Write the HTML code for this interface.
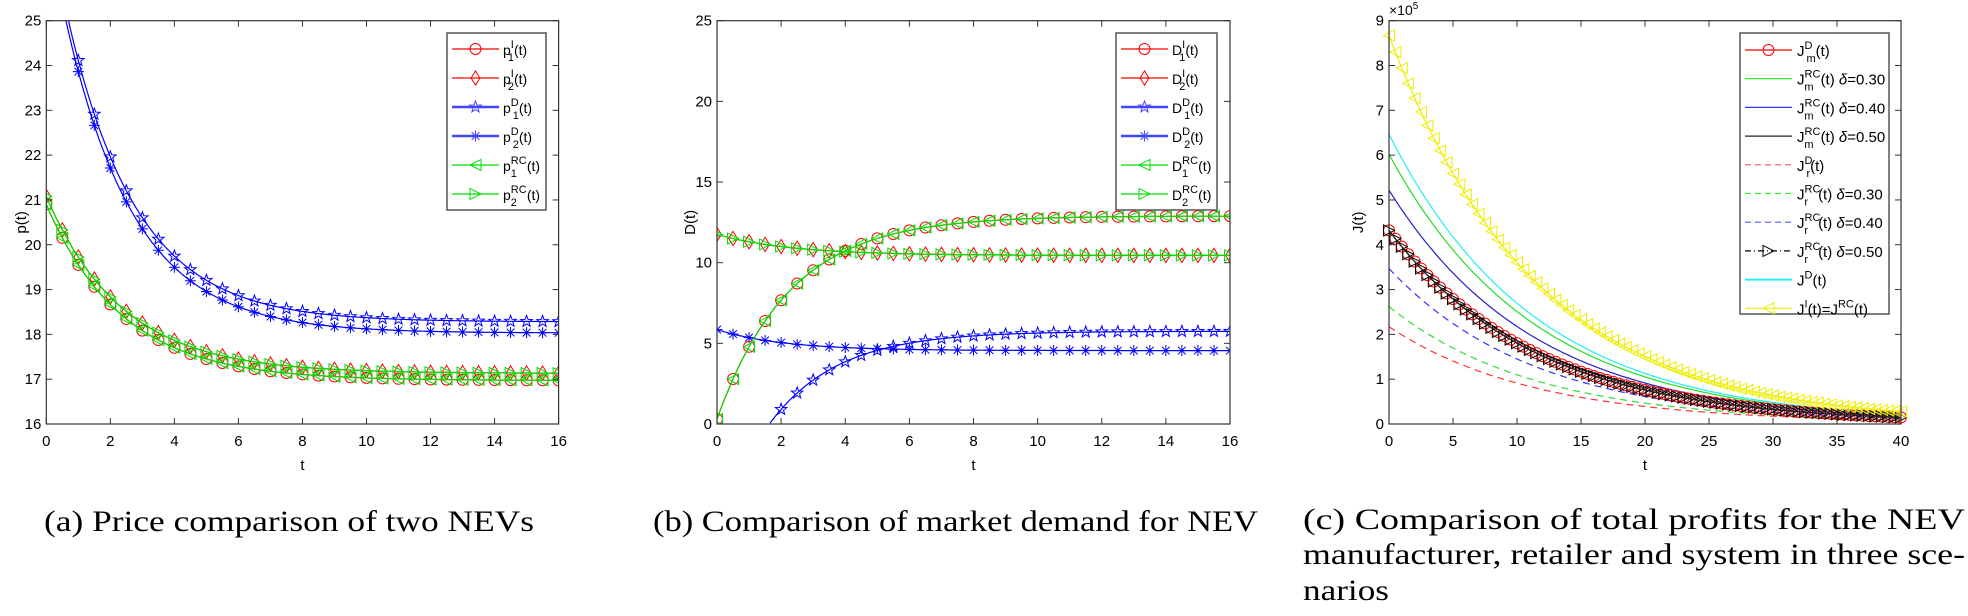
<!DOCTYPE html>
<html><head><meta charset="utf-8">
<style>
html,body{margin:0;padding:0;background:#fff;}
svg{display:block;}
text{font-family:"Liberation Sans",sans-serif;}
.cap{font-family:"Liberation Serif",serif;font-size:30px;fill:#000;}
</style></head>
<body>
<svg id="s" width="1968" height="616" xmlns="http://www.w3.org/2000/svg"></svg>
<script>
const S=document.getElementById('s');
let out='';
function ax(o){
  const {x0,x1,y0,y1}=o;
  let s=`<rect x="${x0}" y="${y0}" width="${x1-x0}" height="${y1-y0}" fill="none" stroke="#333" stroke-width="1.2"/>`;
  o.xt.forEach(v=>{const X=o.X(v);
    s+=`<line x1="${X}" y1="${y1}" x2="${X}" y2="${y1-6}" stroke="#333"/><line x1="${X}" y1="${y0}" x2="${X}" y2="${y0+6}" stroke="#333"/>`;
    s+=`<text x="${X}" y="${y1+22}" font-size="15" text-anchor="middle">${v}</text>`;});
  o.yt.forEach(v=>{const Y=o.Y(v);
    s+=`<line x1="${x0}" y1="${Y}" x2="${x0+6}" y2="${Y}" stroke="#333"/><line x1="${x1}" y1="${Y}" x2="${x1-6}" y2="${Y}" stroke="#333"/>`;
    s+=`<text x="${x0-5}" y="${Y+5}" font-size="15" text-anchor="end">${v}</text>`;});
  s+=`<text x="${(x0+x1)/2}" y="${y1+46}" font-size="15" text-anchor="middle">t</text>`;
  s+=`<text transform="translate(${o.lx},${(y0+y1)/2}) rotate(-90)" font-size="15" text-anchor="middle">${o.ylab}</text>`;
  return s;
}
function mk(type,x,y,c,r){
  r=r||5.5;
  if(type=='o')return `<circle cx="${x}" cy="${y}" r="${r}" fill="none" stroke="${c}"/>`;
  if(type=='d')return `<polygon points="${x},${y-r*1.3} ${x+r*0.8},${y} ${x},${y+r*1.3} ${x-r*0.8},${y}" fill="none" stroke="${c}"/>`;
  if(type=='<')return `<polygon points="${x-r},${y} ${x+r},${y-r} ${x+r},${y+r}" fill="none" stroke="${c}"/>`;
  if(type=='>')return `<polygon points="${x+r},${y} ${x-r},${y-r} ${x-r},${y+r}" fill="none" stroke="${c}"/>`;
  if(type=='*')return `<g stroke="${c}"><line x1="${x-r}" y1="${y}" x2="${x+r}" y2="${y}"/><line x1="${x}" y1="${y-r}" x2="${x}" y2="${y+r}"/><line x1="${x-r*.7}" y1="${y-r*.7}" x2="${x+r*.7}" y2="${y+r*.7}"/><line x1="${x-r*.7}" y1="${y+r*.7}" x2="${x+r*.7}" y2="${y-r*.7}"/></g>`;
  if(type=='p'){let p=[];for(let i=0;i<10;i++){const a=-Math.PI/2+i*Math.PI/5,rr=i%2?r*0.45:r*1.1;p.push((x+rr*Math.cos(a)).toFixed(1)+','+(y+rr*Math.sin(a)).toFixed(1));}return `<polygon points="${p.join(' ')}" fill="none" stroke="${c}"/>`;}
  return '';
}
function series(o,f,c,t0,t1,mt,mstep,dash,w,clip){
  let pts=[];
  for(let t=t0;t<=t1+1e-9;t+=(t1-t0)/300){const v=f(t);if(clip&&v<o.ymin)continue;pts.push(o.X(t).toFixed(1)+','+o.Y(v).toFixed(1));}
  let s=`<polyline points="${pts.join(' ')}" fill="none" stroke="${c}" stroke-width="${w||1.2}" ${dash?'stroke-dasharray="'+dash+'"':''}/>`;
  if(mt){for(let t=t0;t<=t1+1e-9;t+=mstep){const v=f(t);if(v<o.ymin)continue;s+=mk(mt,o.X(t),o.Y(v),c);}}
  return s;
}
function leg(x,y,w,h,rows,lx0,lx1,tx,y1,dy,fs){
  let s=`<rect x="${x}" y="${y}" width="${w}" height="${h}" fill="#fff" stroke="#555" stroke-width="1.5"/>`;
  rows.forEach((r,i)=>{const Y=y1+i*dy;
    s+=`<line x1="${lx0}" y1="${Y}" x2="${lx1}" y2="${Y}" stroke="${r.c}" stroke-width="${r.w||1.2}" ${r.dash?'stroke-dasharray="'+r.dash+'"':''}/>`;
    if(r.m)s+=mk(r.m,(lx0+lx1)/2,Y,r.c);
    s+=`<text x="${tx}" y="${Y+6}" font-size="${fs||14}">${r.t}</text>`;});
  return s;
}
function sp(b,p,s,extra){const pw=p.length*(p.length>1?8:6),sw=s.length*(s=='m'?9:6);const fw=Math.max(0,pw-sw);
  return `${b}<tspan dy="-7" font-size="11">${p}</tspan><tspan dx="${-pw}" dy="13" font-size="11">${s}</tspan><tspan dx="${fw}" dy="-6">(t)${extra||''}</tspan>`;}

// plot a
let A={x0:46.3,x1:558.6,y0:20.7,y1:424,xmin:0,xmax:16,ymin:16,ymax:25};
A.X=t=>A.x0+(t-A.xmin)/(A.xmax-A.xmin)*(A.x1-A.x0);A.Y=v=>A.y1-(v-A.ymin)/(A.ymax-A.ymin)*(A.y1-A.y0);
A.xt=[0,2,4,6,8,10,12,14,16];A.yt=[16,17,18,19,20,21,22,23,24,25];A.lx=26;A.ylab='p(t)';
out+=`<clipPath id="ca"><rect x="${A.x0}" y="${A.y0}" width="${A.x1-A.x0}" height="${A.y1-A.y0}"/></clipPath>`;
out+='<g clip-path="url(#ca)">';
const pa1=t=>16.97+3.93*Math.exp(-0.42*t), pa2=t=>17.13+3.95*Math.exp(-0.42*t);
const pd1=t=>18.28+9.24*Math.exp(-0.46*t), pd2=t=>18.03+9.24*Math.exp(-0.46*t);
out+=series(A,pd1,'#00f',0,16,'p',0.5,null,1.2);
out+=series(A,pd2,'#00f',0,16,'*',0.5,null,1.2);
out+=series(A,pa1,'#f00',0,16,'o',0.5);
out+=series(A,pa2,'#f00',0,16,'d',0.5);
out+=series(A,pa1,'#0d0',0,16,'<',0.5);
out+=series(A,pa2,'#0d0',0,16,'>',0.5);
out+='</g>'+ax(A);
out+=leg(447,33,99,177,[
 {c:'#f00',m:'o',t:sp('p','I','1')},{c:'#f00',m:'d',t:sp('p','I','2')},
 {c:'#44f',m:'p',w:2.5,t:sp('p','D','1')},{c:'#44f',m:'*',w:2.5,t:sp('p','D','2')},
 {c:'#0d0',m:'<',t:sp('p','RC','1')},{c:'#0d0',m:'>',t:sp('p','RC','2')}],452,499,503,49,29);

// plot b
let B={x0:717,x1:1230,y0:20.7,y1:424,xmin:0,xmax:16,ymin:0,ymax:25};
B.X=t=>B.x0+(t-B.xmin)/(B.xmax-B.xmin)*(B.x1-B.x0);B.Y=v=>B.y1-(v-B.ymin)/(B.ymax-B.ymin)*(B.y1-B.y0);
B.xt=[0,2,4,6,8,10,12,14,16];B.yt=[0,5,10,15,20,25];B.lx=695;B.ylab='D(t)';
out+=`<clipPath id="cb"><rect x="${B.x0}" y="${B.y0-1}" width="${B.x1-B.x0}" height="${B.y1-B.y0+1}"/></clipPath>`;
out+='<g clip-path="url(#cb)">';
const d1=t=>12.9-12.6*Math.exp(-0.44*t), d2=t=>10.45+1.3*Math.exp(-0.43*t);
const dd1=t=>5.75-12.4*Math.exp(-0.47*t), dd2=t=>4.55+1.3*Math.exp(-0.48*t);
out+=series(B,dd1,'#00f',0,16,'p',0.5,null,1.2,true);
out+=series(B,dd2,'#00f',0,16,'*',0.5);
out+=series(B,d1,'#f00',0,16,'o',0.5);
out+=series(B,d2,'#f00',0,16,'d',0.5);
out+=series(B,d1,'#0d0',0,16,'<',0.5);
out+=series(B,d2,'#0d0',0,16,'>',0.5);
out+='</g>'+ax(B);
out+=leg(1116,33,101,177,[
 {c:'#f00',m:'o',t:sp('D','I','1')},{c:'#f00',m:'d',t:sp('D','I','2')},
 {c:'#44f',m:'p',w:2.5,t:sp('D','D','1')},{c:'#44f',m:'*',w:2.5,t:sp('D','D','2')},
 {c:'#0d0',m:'<',t:sp('D','RC','1')},{c:'#0d0',m:'>',t:sp('D','RC','2')}],1121,1168,1172,49,29);

// plot c
let C={x0:1389,x1:1901,y0:20.7,y1:424,xmin:0,xmax:40,ymin:0,ymax:9};
C.X=t=>C.x0+(t-C.xmin)/(C.xmax-C.xmin)*(C.x1-C.x0);C.Y=v=>C.y1-(v-C.ymin)/(C.ymax-C.ymin)*(C.y1-C.y0);
C.xt=[0,5,10,15,20,25,30,35,40];C.yt=[0,1,2,3,4,5,6,7,8,9];C.lx=1363;C.ylab='J(t)';
const e=(a)=>t=>a*Math.exp(-0.088*t)+0.02;
out+=series(C,e(2.15),'#f33',0,40,null,0,'7,5');
out+=series(C,e(2.6),'#3d3',0,40,null,0,'7,5');
out+=series(C,e(3.45),'#33f',0,40,null,0,'7,5');
out+=series(C,e(5.2),'#22c',0,40);
out+=series(C,e(6.0),'#2d2',0,40);
out+=series(C,e(6.45),'#2ee',0,40);
out+=series(C,e(4.3),'#f00',0,40,'o',0.5);
out+=series(C,e(4.3),'#000',0,40,'>',0.5,'6,3,1,3');
out+=series(C,e(4.3),'#222',0,40);
out+=series(C,e(8.65),'#ee0',0,40,'<',0.5);
out+=ax(C);
out+=`<text x="${C.x0}" y="15" font-size="14">×10<tspan dy="-6" font-size="10">5</tspan></text>`;
out+=leg(1740,33,149,281,[
 {c:'#f00',m:'o',t:sp('J','D','m')},
 {c:'#2e2',t:sp('J','RC','m',' <tspan font-style="italic">δ</tspan>=0.30')},
 {c:'#33f',t:sp('J','RC','m',' <tspan font-style="italic">δ</tspan>=0.40')},
 {c:'#222',t:sp('J','RC','m',' <tspan font-style="italic">δ</tspan>=0.50')},
 {c:'#f55',dash:'6,4',t:sp('J','D','r')},
 {c:'#3e3',dash:'6,4',t:sp('J','RC','r',' <tspan font-style="italic">δ</tspan>=0.30')},
 {c:'#55f',dash:'6,4',t:sp('J','RC','r',' <tspan font-style="italic">δ</tspan>=0.40')},
 {c:'#000',m:'>',dash:'6,3,1,3',t:sp('J','RC','r',' <tspan font-style="italic">δ</tspan>=0.50')},
 {c:'#2ee',w:2,t:'J<tspan dy="-7" font-size="11">D</tspan><tspan dy="7">(t)</tspan>'},
 {c:'#ee0',m:'<',t:'J<tspan dy="-7" font-size="11">I</tspan><tspan dy="7">(t)=J</tspan><tspan dy="-7" font-size="11">RC</tspan><tspan dy="7">(t)</tspan>'}],
 1745,1792,1797,50,28.7,15);

// captions
out+=`<text class="cap" x="44" y="531" textLength="490" lengthAdjust="spacingAndGlyphs">(a)  Price comparison of two NEVs</text>`;
out+=`<text class="cap" x="653" y="531" textLength="605" lengthAdjust="spacingAndGlyphs">(b)  Comparison of market demand for NEV</text>`;
out+=`<text class="cap" x="1303" y="529" textLength="662" lengthAdjust="spacingAndGlyphs">(c)  Comparison of total profits for the NEV</text>`;
out+=`<text class="cap" x="1303" y="564" textLength="662" lengthAdjust="spacingAndGlyphs">manufacturer, retailer and system in three sce-</text>`;
out+=`<text class="cap" x="1303" y="600" textLength="86" lengthAdjust="spacingAndGlyphs">narios</text>`;
S.innerHTML=out;
</script>
</body></html>
